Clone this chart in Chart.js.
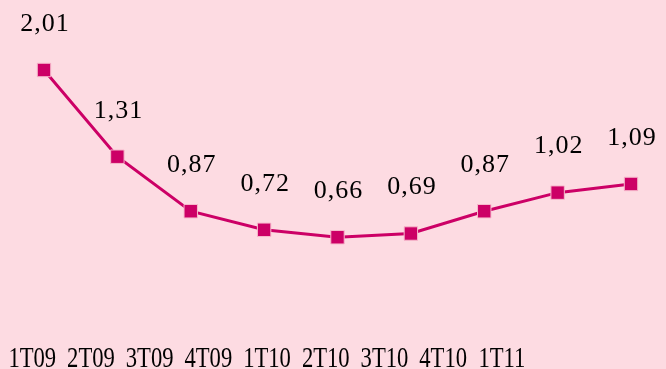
<!DOCTYPE html>
<html>
<head>
<meta charset="utf-8">
<script src="https://cdn.jsdelivr.net/npm/chart.js@4/dist/chart.umd.min.js"></script>
<style>
  html, body { margin: 0; padding: 0; background: #fddbe2; }
  #wrap { width: 666px; height: 369px; }
</style>
</head>
<body>
<div id="wrap"><canvas id="lineChart" width="666" height="369"></canvas></div>
<script>
// quarters and the index value per quarter
const quarters = ['1T09', '2T09', '3T09', '4T09', '1T10', '2T10', '3T10', '4T10', '1T11'];
const values = [2.01, 1.31, 0.87, 0.72, 0.66, 0.69, 0.87, 1.02, 1.09];
// the axis labels sit on their own, tighter grid in the original
const labelSlots = [0, 1, 2, 3, 4, 5, 6, 7, 8];

const pink = '#fddbe2';
const magenta = '#cc0066';

const fmt = v => v.toFixed(2).replace('.', ',');

const bgPlugin = {
  id: 'bg',
  beforeDraw(chart) {
    const ctx = chart.ctx;
    ctx.save();
    ctx.fillStyle = pink;
    ctx.fillRect(0, 0, chart.width, chart.height);
    ctx.restore();
  }
};

const labelsPlugin = {
  id: 'labels',
  afterDatasetsDraw(chart) {
    const ctx = chart.ctx;
    const meta = chart.getDatasetMeta(0);

    // value labels above each point
    ctx.save();
    ctx.fillStyle = '#000';
    ctx.font = '26px "Liberation Serif", "Times New Roman", serif';
    ctx.textAlign = 'center';
    ctx.textBaseline = 'middle';
    ctx.letterSpacing = '1px';
    meta.data.forEach((pt, i) => {
      ctx.fillText(fmt(values[i]), pt.x + 1, pt.y - 46);
    });
    ctx.restore();

    // quarter labels along the bottom, condensed
    const xl = chart.scales.xl;
    ctx.save();
    ctx.fillStyle = '#000';
    ctx.font = '29px "Liberation Serif", "Times New Roman", serif';
    ctx.textAlign = 'center';
    ctx.textBaseline = 'alphabetic';
    quarters.forEach((q, i) => {
      const x = xl.getPixelForValue(labelSlots[i]);
      ctx.save();
      ctx.translate(x, 367);
      ctx.scale(0.78, 1);
      ctx.fillText(q, 0, 0);
      ctx.restore();
    });
    ctx.restore();
  }
};

new Chart(document.getElementById('lineChart'), {
  type: 'line',
  data: {
    labels: quarters,
    datasets: [{
      data: values,
      borderColor: magenta,
      borderWidth: 3,
      pointStyle: 'rect',
      pointRadius: 9.5,
      pointBackgroundColor: magenta,
      pointBorderColor: '#f7b9cc',
      pointBorderWidth: 1,
      tension: 0
    }]
  },
  options: {
    responsive: false,
    animation: false,
    layout: { autoPadding: false, padding: { left: 44, right: 35, top: 0, bottom: 50 } },
    plugins: { legend: { display: false }, tooltip: { enabled: false } },
    scales: {
      x: { display: false, offset: false },
      xl: { type: 'linear', axis: 'x', position: 'bottom', display: false, min: 0.2, max: 10.2 },
      y: { display: false, min: 0, max: 2.575 }
    }
  },
  plugins: [bgPlugin, labelsPlugin]
});
</script>
</body>
</html>
